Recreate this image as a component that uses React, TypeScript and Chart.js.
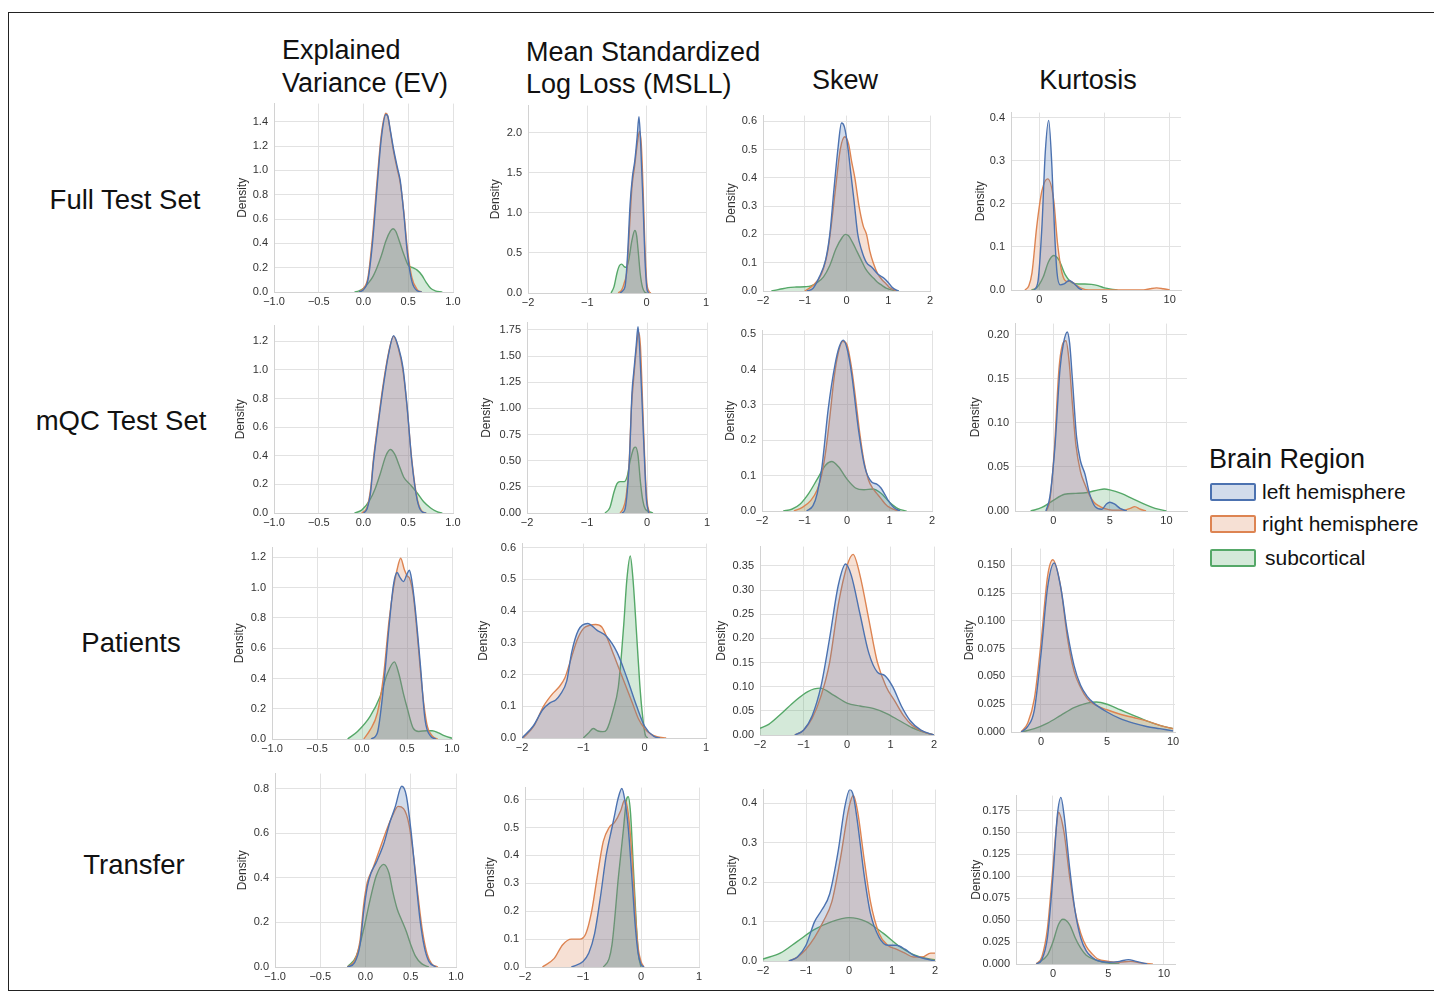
import React, { useEffect, useRef } from "react";
import { Chart, registerables } from "chart.js";
Chart.register(...registerables);

type Pt = [number, number];

// ---------- text ----------
const ROW_LABELS = ["Full Test Set", "mQC Test Set", "Patients", "Transfer"];
const COL_TITLES = [["Explained", "Variance (EV)"], ["Mean Standardized", "Log Loss (MSLL)"], ["Skew"], ["Kurtosis"]];
const SERIES = ["left hemisphere", "right hemisphere", "subcortical"];
const LEGEND_TITLE = "Brain Region";
const Y_TITLE = "Density";

// ---------- tick values ----------
const EV_X_TICKS = [-1, -0.5, 0, 0.5, 1];
const MSLL_X_TICKS = [-2, -1, 0, 1];
const SKEW_X_TICKS = [-2, -1, 0, 1, 2];
const KURT_X_TICKS = [0, 5, 10];

const FULL_EV_Y = [0, 0.2, 0.4, 0.6, 0.8, 1.0, 1.2, 1.4];
const FULL_MSLL_Y = [0, 0.5, 1.0, 1.5, 2.0];
const FULL_SKEW_Y = [0, 0.1, 0.2, 0.3, 0.4, 0.5, 0.6];
const FULL_KURT_Y = [0, 0.1, 0.2, 0.3, 0.4];
const MQC_EV_Y = [0, 0.2, 0.4, 0.6, 0.8, 1.0, 1.2];
const MQC_MSLL_Y = [0, 0.25, 0.5, 0.75, 1.0, 1.25, 1.5, 1.75];
const MQC_SKEW_Y = [0, 0.1, 0.2, 0.3, 0.4, 0.5];
const MQC_KURT_Y = [0, 0.05, 0.1, 0.15, 0.2];
const PAT_EV_Y = [0, 0.2, 0.4, 0.6, 0.8, 1.0, 1.2];
const PAT_MSLL_Y = [0, 0.1, 0.2, 0.3, 0.4, 0.5, 0.6];
const PAT_SKEW_Y = [0, 0.05, 0.1, 0.15, 0.2, 0.25, 0.3, 0.35];
const PAT_KURT_Y = [0, 0.025, 0.05, 0.075, 0.1, 0.125, 0.15];
const TR_EV_Y = [0, 0.2, 0.4, 0.6, 0.8];
const TR_MSLL_Y = [0, 0.1, 0.2, 0.3, 0.4, 0.5, 0.6];
const TR_SKEW_Y = [0, 0.1, 0.2, 0.3, 0.4];
const TR_KURT_Y = [0, 0.025, 0.05, 0.075, 0.1, 0.125, 0.15, 0.175];

// ---------- density curves [x, density] ----------
const FULL_EV_LEFT: Pt[] = [[-0.05,0],[0,0.02],[0.05,0.1],[0.1,0.4],[0.15,0.85],[0.2,1.27],[0.25,1.46],[0.27,1.45],[0.3,1.33],[0.34,1.16],[0.38,1.02],[0.41,0.92],[0.45,0.65],[0.49,0.32],[0.54,0.09],[0.6,0.01],[0.65,0]];
const FULL_EV_RIGHT: Pt[] = [[-0.05,0],[0,0.03],[0.05,0.12],[0.1,0.45],[0.15,0.9],[0.2,1.3],[0.25,1.47],[0.27,1.45],[0.3,1.32],[0.34,1.14],[0.38,1.0],[0.41,0.9],[0.45,0.66],[0.49,0.36],[0.54,0.12],[0.6,0.02],[0.65,0]];
const FULL_EV_SUB: Pt[] = [[-0.1,0],[-0.05,0.01],[0,0.03],[0.05,0.07],[0.1,0.12],[0.15,0.2],[0.2,0.3],[0.25,0.42],[0.3,0.5],[0.33,0.52],[0.36,0.5],[0.4,0.42],[0.45,0.31],[0.5,0.22],[0.55,0.2],[0.6,0.18],[0.65,0.14],[0.7,0.08],[0.75,0.03],[0.8,0.01],[0.88,0]];

const FULL_MSLL_LEFT: Pt[] = [[-0.45,0],[-0.4,0.03],[-0.36,0.1],[-0.32,0.5],[-0.28,1.1],[-0.24,1.45],[-0.2,1.65],[-0.16,1.95],[-0.13,2.2],[-0.1,1.85],[-0.06,1.1],[-0.03,0.45],[0,0.08],[0.03,0]];
const FULL_MSLL_RIGHT: Pt[] = [[-0.48,0],[-0.42,0.04],[-0.38,0.12],[-0.33,0.3],[-0.29,0.8],[-0.25,1.3],[-0.2,1.6],[-0.16,1.85],[-0.12,2.02],[-0.09,1.85],[-0.06,1.3],[-0.03,0.6],[0,0.15],[0.04,0.02],[0.07,0]];
const FULL_MSLL_SUB: Pt[] = [[-0.6,0],[-0.55,0.08],[-0.5,0.25],[-0.46,0.34],[-0.42,0.36],[-0.38,0.33],[-0.34,0.32],[-0.3,0.42],[-0.25,0.65],[-0.2,0.78],[-0.17,0.72],[-0.14,0.5],[-0.11,0.25],[-0.07,0.07],[-0.03,0.01],[0,0]];

const FULL_SKEW_LEFT: Pt[] = [[-0.95,0],[-0.8,0.01],[-0.65,0.05],[-0.5,0.11],[-0.4,0.2],[-0.3,0.36],[-0.2,0.51],[-0.12,0.594],[-0.05,0.58],[0.04,0.5],[0.1,0.42],[0.18,0.32],[0.27,0.2],[0.36,0.145],[0.48,0.1],[0.6,0.085],[0.75,0.06],[0.9,0.045],[1.0,0.03],[1.1,0.012],[1.25,0]];
const FULL_SKEW_RIGHT: Pt[] = [[-1.0,0],[-0.8,0.02],[-0.6,0.06],[-0.45,0.14],[-0.35,0.25],[-0.25,0.38],[-0.15,0.5],[-0.04,0.545],[0.05,0.52],[0.12,0.46],[0.2,0.4],[0.3,0.3],[0.4,0.23],[0.48,0.2],[0.56,0.14],[0.64,0.1],[0.75,0.06],[0.85,0.04],[0.95,0.025],[1.05,0.01],[1.2,0]];
const FULL_SKEW_SUB: Pt[] = [[-1.8,0],[-1.6,0.006],[-1.4,0.012],[-1.2,0.014],[-1.0,0.015],[-0.85,0.018],[-0.7,0.03],[-0.55,0.05],[-0.4,0.09],[-0.25,0.15],[-0.1,0.19],[-0.03,0.2],[0.05,0.195],[0.15,0.17],[0.25,0.14],[0.35,0.11],[0.45,0.08],[0.55,0.06],[0.65,0.045],[0.75,0.03],[0.85,0.02],[0.95,0.01],[1.1,0.003],[1.25,0]];

const FULL_KURT_LEFT: Pt[] = [[-0.4,0],[-0.1,0.02],[0.2,0.146],[0.46,0.32],[0.72,0.394],[0.97,0.285],[1.18,0.13],[1.36,0.04],[1.6,0.012],[1.9,0.014],[2.3,0.022],[2.7,0.014],[3.0,0.005],[3.3,0]];
const FULL_KURT_RIGHT: Pt[] = [[-1.1,0],[-0.8,0.01],[-0.56,0.04],[-0.2,0.146],[0.2,0.23],[0.64,0.258],[1.1,0.21],[1.4,0.108],[1.74,0.04],[2.1,0.02],[2.4,0.02],[2.8,0.012],[3.3,0.003],[3.8,0],[8.0,0],[8.5,0.003],[9.0,0.005],[9.5,0.003],[10.0,0]];
const FULL_KURT_SUB: Pt[] = [[-0.6,0],[-0.2,0.005],[0.3,0.03],[0.7,0.065],[1.1,0.08],[1.5,0.07],[2.0,0.035],[2.5,0.017],[3.0,0.014],[3.5,0.014],[4.0,0.013],[4.5,0.01],[5.0,0.005],[5.5,0.002],[6.0,0]];

const MQC_EV_LEFT: Pt[] = [[0.0,0],[0.04,0.03],[0.08,0.15],[0.11,0.35],[0.17,0.65],[0.22,0.88],[0.28,1.11],[0.336,1.24],[0.39,1.16],[0.44,1.02],[0.485,0.76],[0.54,0.36],[0.6,0.09],[0.65,0.01],[0.7,0]];
const MQC_EV_RIGHT: Pt[] = [[-0.02,0],[0.04,0.04],[0.08,0.17],[0.11,0.37],[0.17,0.67],[0.22,0.9],[0.28,1.12],[0.335,1.235],[0.39,1.15],[0.44,1.0],[0.485,0.75],[0.54,0.37],[0.6,0.1],[0.65,0.015],[0.7,0]];
const MQC_EV_SUB: Pt[] = [[-0.1,0],[-0.02,0.02],[0.07,0.09],[0.13,0.17],[0.19,0.28],[0.25,0.4],[0.3,0.444],[0.35,0.41],[0.4,0.33],[0.45,0.25],[0.52,0.2],[0.6,0.14],[0.67,0.08],[0.75,0.035],[0.82,0.01],[0.88,0]];

const MQC_MSLL_LEFT: Pt[] = [[-0.42,0],[-0.37,0.03],[-0.33,0.2],[-0.29,0.55],[-0.25,1.15],[-0.22,1.35],[-0.18,1.6],[-0.15,1.78],[-0.12,1.55],[-0.07,0.89],[-0.03,0.35],[-0.01,0.13],[0.03,0]];
const MQC_MSLL_RIGHT: Pt[] = [[-0.45,0],[-0.4,0.04],[-0.35,0.15],[-0.3,0.45],[-0.26,1.0],[-0.22,1.3],[-0.18,1.55],[-0.14,1.73],[-0.11,1.6],[-0.07,1.0],[-0.03,0.4],[0,0.12],[0.04,0]];
const MQC_MSLL_SUB: Pt[] = [[-0.7,0],[-0.62,0.05],[-0.55,0.2],[-0.5,0.28],[-0.45,0.3],[-0.38,0.3],[-0.33,0.35],[-0.28,0.5],[-0.22,0.62],[-0.19,0.63],[-0.15,0.55],[-0.11,0.3],[-0.07,0.12],[-0.03,0.04],[0.05,0.01],[0.1,0]];

const MQC_SKEW_LEFT: Pt[] = [[-0.95,0],[-0.8,0.015],[-0.7,0.05],[-0.59,0.124],[-0.44,0.29],[-0.28,0.415],[-0.18,0.465],[-0.09,0.483],[0.0,0.46],[0.11,0.387],[0.27,0.23],[0.42,0.124],[0.58,0.082],[0.7,0.076],[0.8,0.065],[0.9,0.045],[0.97,0.03],[1.1,0.01],[1.25,0]];
const MQC_SKEW_RIGHT: Pt[] = [[-1.25,0],[-1.05,0.01],[-0.85,0.03],[-0.7,0.06],[-0.6,0.1],[-0.5,0.17],[-0.4,0.27],[-0.3,0.38],[-0.2,0.45],[-0.1,0.48],[0.0,0.47],[0.1,0.41],[0.2,0.32],[0.3,0.22],[0.4,0.14],[0.5,0.09],[0.6,0.065],[0.7,0.05],[0.8,0.035],[0.9,0.02],[1.0,0.01],[1.2,0]];
const MQC_SKEW_SUB: Pt[] = [[-1.5,0],[-1.3,0.005],[-1.1,0.02],[-0.9,0.05],[-0.7,0.09],[-0.5,0.13],[-0.36,0.14],[-0.2,0.125],[0,0.09],[0.2,0.065],[0.4,0.06],[0.6,0.062],[0.8,0.05],[1.0,0.025],[1.2,0.007],[1.4,0]];

const MQC_KURT_LEFT: Pt[] = [[-0.65,0],[-0.3,0.016],[0.15,0.073],[0.59,0.16],[0.9,0.19],[1.24,0.203],[1.45,0.19],[1.7,0.148],[2.06,0.084],[2.4,0.057],[2.8,0.042],[3.2,0.02],[3.7,0.005],[4.3,0.002],[4.7,0.008],[5.0,0.01],[5.4,0.008],[5.9,0.003],[6.5,0]];
const MQC_KURT_RIGHT: Pt[] = [[-0.6,0],[-0.3,0.012],[0.1,0.07],[0.5,0.16],[0.8,0.188],[1.12,0.193],[1.4,0.17],[1.7,0.12],[2.0,0.075],[2.4,0.045],[2.8,0.03],[3.2,0.018],[3.6,0.01],[4.0,0.006],[4.5,0.003],[5.2,0.001],[6.2,0.001],[6.8,0.003],[7.2,0.005],[7.7,0.002],[8.2,0]];
const MQC_KURT_SUB: Pt[] = [[-2.0,0],[-1.0,0.004],[0,0.012],[1,0.019],[2,0.02],[3,0.021],[4,0.024],[4.5,0.025],[5,0.024],[6,0.02],[7,0.014],[8,0.008],[9,0.003],[10,0]];

const PAT_EV_LEFT: Pt[] = [[0.1,0],[0.17,0.04],[0.24,0.35],[0.3,0.74],[0.35,1.02],[0.39,1.1],[0.42,1.07],[0.46,1.04],[0.5,1.09],[0.526,1.115],[0.55,1.06],[0.59,0.87],[0.65,0.48],[0.7,0.13],[0.76,0.02],[0.82,0]];
const PAT_EV_RIGHT: Pt[] = [[0.02,0],[0.09,0.06],[0.17,0.17],[0.24,0.42],[0.3,0.78],[0.35,1.0],[0.39,1.12],[0.43,1.195],[0.47,1.12],[0.5,1.08],[0.53,1.06],[0.57,0.95],[0.62,0.65],[0.67,0.32],[0.72,0.1],[0.78,0.02],[0.84,0]];
const PAT_EV_SUB: Pt[] = [[-0.16,0],[-0.05,0.05],[0.09,0.15],[0.2,0.28],[0.28,0.43],[0.36,0.51],[0.41,0.43],[0.46,0.3],[0.5,0.21],[0.57,0.07],[0.63,0.05],[0.72,0.055],[0.78,0.055],[0.85,0.04],[0.92,0.02],[1.0,0.005]];

const PAT_MSLL_LEFT: Pt[] = [[-2.0,0],[-1.82,0.037],[-1.66,0.09],[-1.55,0.11],[-1.45,0.12],[-1.38,0.136],[-1.27,0.18],[-1.19,0.27],[-1.08,0.34],[-0.93,0.361],[-0.78,0.34],[-0.62,0.32],[-0.45,0.27],[-0.29,0.19],[-0.13,0.1],[0.0,0.037],[0.15,0.005],[0.25,0]];
const PAT_MSLL_RIGHT: Pt[] = [[-1.98,0],[-1.8,0.04],[-1.65,0.1],[-1.5,0.14],[-1.4,0.16],[-1.3,0.19],[-1.2,0.25],[-1.1,0.31],[-1.0,0.345],[-0.9,0.355],[-0.8,0.358],[-0.7,0.35],[-0.6,0.31],[-0.5,0.26],[-0.4,0.21],[-0.3,0.16],[-0.2,0.11],[-0.1,0.06],[0,0.03],[0.1,0.012],[0.2,0.004],[0.35,0]];
const PAT_MSLL_SUB: Pt[] = [[-1.0,0],[-0.92,0.015],[-0.84,0.03],[-0.76,0.022],[-0.68,0.02],[-0.62,0.026],[-0.51,0.09],[-0.43,0.16],[-0.38,0.26],[-0.34,0.36],[-0.29,0.5],[-0.235,0.574],[-0.19,0.5],[-0.126,0.31],[-0.08,0.17],[-0.04,0.08],[0.01,0.01],[0.05,0]];

const PAT_SKEW_LEFT: Pt[] = [[-1.2,0],[-1.0,0.01],[-0.8,0.04],[-0.6,0.1],[-0.4,0.2],[-0.2,0.31],[-0.03,0.354],[0.1,0.33],[0.3,0.25],[0.5,0.17],[0.7,0.13],[0.87,0.123],[1.05,0.1],[1.25,0.06],[1.45,0.03],[1.7,0.01],[2.0,0]];
const PAT_SKEW_RIGHT: Pt[] = [[-1.2,0],[-1.0,0.01],[-0.8,0.035],[-0.6,0.08],[-0.4,0.15],[-0.2,0.27],[0.0,0.35],[0.14,0.374],[0.3,0.33],[0.5,0.24],[0.7,0.15],[0.9,0.1],[1.1,0.07],[1.3,0.04],[1.5,0.02],[1.8,0.005],[2.0,0]];
const PAT_SKEW_SUB: Pt[] = [[-2.0,0.014],[-1.8,0.022],[-1.5,0.045],[-1.2,0.07],[-0.9,0.09],[-0.62,0.097],[-0.3,0.082],[0.0,0.066],[0.3,0.06],[0.6,0.055],[0.9,0.045],[1.2,0.03],[1.5,0.015],[1.8,0.005],[2.0,0]];

const PAT_KURT_LEFT: Pt[] = [[-1.5,0],[-1.0,0.005],[-0.5,0.02],[0,0.07],[0.5,0.13],[1.0,0.152],[1.5,0.13],[2.0,0.09],[2.5,0.06],[3.0,0.042],[3.5,0.032],[4,0.026],[5,0.018],[6,0.012],[7,0.008],[8,0.005],[9,0.003],[10,0.001]];
const PAT_KURT_RIGHT: Pt[] = [[-1.5,0],[-1,0.008],[-0.5,0.03],[0,0.08],[0.5,0.14],[0.9,0.155],[1.5,0.13],[2.0,0.085],[2.5,0.055],[3,0.04],[3.5,0.03],[4,0.025],[5,0.02],[6,0.016],[7,0.013],[8,0.01],[9,0.006],[10,0.003]];
const PAT_KURT_SUB: Pt[] = [[-1.5,0],[-0.5,0.003],[0.5,0.008],[1.5,0.015],[2.5,0.022],[3.5,0.026],[4.2,0.027],[5,0.025],[6,0.02],[7,0.015],[8,0.01],[9,0.006],[10,0.003]];

const TR_EV_LEFT: Pt[] = [[-0.2,0],[-0.12,0.02],[-0.06,0.1],[-0.02,0.25],[0.02,0.36],[0.06,0.42],[0.12,0.47],[0.2,0.55],[0.27,0.65],[0.33,0.72],[0.4,0.81],[0.45,0.77],[0.5,0.62],[0.55,0.42],[0.6,0.22],[0.65,0.09],[0.7,0.025],[0.78,0]];
const TR_EV_RIGHT: Pt[] = [[-0.2,0],[-0.12,0.03],[-0.06,0.12],[-0.02,0.28],[0.02,0.38],[0.08,0.44],[0.15,0.52],[0.22,0.6],[0.3,0.68],[0.36,0.72],[0.42,0.71],[0.48,0.64],[0.53,0.5],[0.58,0.32],[0.63,0.16],[0.68,0.06],[0.73,0.015],[0.8,0]];
const TR_EV_SUB: Pt[] = [[-0.2,0],[-0.1,0.05],[-0.02,0.17],[0.05,0.3],[0.12,0.41],[0.2,0.46],[0.26,0.42],[0.3,0.34],[0.35,0.26],[0.4,0.21],[0.45,0.16],[0.5,0.1],[0.55,0.05],[0.62,0.015],[0.7,0]];

const TR_MSLL_LEFT: Pt[] = [[-1.2,0],[-1.0,0.02],[-0.9,0.05],[-0.8,0.12],[-0.7,0.25],[-0.6,0.4],[-0.5,0.5],[-0.45,0.55],[-0.4,0.6],[-0.33,0.64],[-0.28,0.6],[-0.22,0.5],[-0.15,0.3],[-0.1,0.15],[-0.05,0.05],[0,0.01],[0.05,0]];
const TR_MSLL_RIGHT: Pt[] = [[-1.7,0],[-1.5,0.03],[-1.35,0.08],[-1.2,0.1],[-1.05,0.1],[-0.95,0.12],[-0.85,0.2],[-0.75,0.33],[-0.65,0.45],[-0.55,0.5],[-0.45,0.52],[-0.35,0.56],[-0.28,0.6],[-0.22,0.55],[-0.15,0.38],[-0.1,0.2],[-0.05,0.07],[0,0.02],[0.05,0]];
const TR_MSLL_SUB: Pt[] = [[-0.65,0],[-0.55,0.03],[-0.5,0.08],[-0.45,0.18],[-0.4,0.3],[-0.35,0.4],[-0.3,0.5],[-0.25,0.6],[-0.22,0.61],[-0.18,0.55],[-0.13,0.35],[-0.08,0.15],[-0.04,0.04],[0,0]];

const TR_SKEW_LEFT: Pt[] = [[-1.4,0],[-1.2,0.01],[-1.0,0.04],[-0.8,0.1],[-0.63,0.13],[-0.45,0.17],[-0.25,0.28],[-0.1,0.39],[0.02,0.435],[0.1,0.42],[0.2,0.35],[0.35,0.22],[0.5,0.12],[0.7,0.06],[0.9,0.04],[1.1,0.04],[1.3,0.03],[1.5,0.015],[1.8,0.005],[2,0]];
const TR_SKEW_RIGHT: Pt[] = [[-1.4,0],[-1.2,0.01],[-1.0,0.03],[-0.8,0.06],[-0.6,0.1],[-0.4,0.15],[-0.2,0.26],[0.0,0.39],[0.1,0.42],[0.2,0.38],[0.35,0.26],[0.5,0.15],[0.7,0.07],[0.9,0.04],[1.1,0.03],[1.3,0.02],[1.5,0.01],[1.7,0.01],[1.9,0.02],[2.0,0.02]];
const TR_SKEW_SUB: Pt[] = [[-2.0,0.005],[-1.6,0.02],[-1.2,0.05],[-0.8,0.08],[-0.4,0.1],[0.0,0.11],[0.4,0.1],[0.8,0.07],[1.2,0.035],[1.6,0.012],[2.0,0.003]];

const TR_KURT_LEFT: Pt[] = [[-1.5,0],[-1,0.005],[-0.5,0.03],[0,0.1],[0.4,0.17],[0.72,0.19],[1.0,0.17],[1.5,0.11],[2.0,0.06],[2.5,0.03],[3,0.015],[3.5,0.008],[4,0.004],[5,0.002],[6,0.003],[6.8,0.005],[7.5,0.003],[8.5,0]];
const TR_KURT_RIGHT: Pt[] = [[-1.5,0],[-1,0.008],[-0.5,0.04],[0,0.11],[0.3,0.155],[0.5,0.173],[1.0,0.15],[1.5,0.1],[2.0,0.06],[2.5,0.035],[3,0.02],[3.5,0.012],[4,0.006],[5,0.003],[6,0.002],[7,0.003],[8,0.001],[9,0]];
const TR_KURT_SUB: Pt[] = [[-1.5,0],[-0.5,0.01],[0,0.025],[0.5,0.045],[0.9,0.051],[1.5,0.045],[2.0,0.03],[2.5,0.018],[3,0.01],[4,0.004],[5,0.001],[6,0]];

// ---------- styling ----------
const LINE_COLORS = ["#4c72b0", "#dd8452", "#55a868"];
const FILL_COLORS = ["rgba(76,114,176,0.25)", "rgba(221,132,82,0.25)", "rgba(85,168,104,0.25)"];
const FONT = "'Liberation Sans', Arial, Helvetica, sans-serif";
const GRID = "#e2e2e2";
const SPINE = "#d2d2d2";
const TXT = "#333333";
const PAD_T = 12;
const PAD_R = 16;
const XH = 24;

type PanelCfg = {
  L: number; R: number; T: number; B: number; densX: number;
  xMin: number; xMax: number; yMax: number;
  xTicks: number[]; xDec: number; yTicks: number[]; yDec: number;
  series: Pt[][];
};

const PANELS: PanelCfg[] = [
  // Full Test Set
  { L: 274, R: 453, T: 103, B: 292, densX: 243, xMin: -1, xMax: 1, yMax: 1.55, xTicks: EV_X_TICKS, xDec: 1, yTicks: FULL_EV_Y, yDec: 1, series: [FULL_EV_LEFT, FULL_EV_RIGHT, FULL_EV_SUB] },
  { L: 528, R: 706, T: 105, B: 293, densX: 496, xMin: -2, xMax: 1, yMax: 2.34, xTicks: MSLL_X_TICKS, xDec: 0, yTicks: FULL_MSLL_Y, yDec: 1, series: [FULL_MSLL_LEFT, FULL_MSLL_RIGHT, FULL_MSLL_SUB] },
  { L: 763, R: 930, T: 115, B: 291, densX: 732, xMin: -2, xMax: 2, yMax: 0.62, xTicks: SKEW_X_TICKS, xDec: 0, yTicks: FULL_SKEW_Y, yDec: 1, series: [FULL_SKEW_LEFT, FULL_SKEW_RIGHT, FULL_SKEW_SUB] },
  { L: 1011, R: 1181, T: 112, B: 290, densX: 981, xMin: -2.17, xMax: 10.87, yMax: 0.412, xTicks: KURT_X_TICKS, xDec: 0, yTicks: FULL_KURT_Y, yDec: 1, series: [FULL_KURT_LEFT, FULL_KURT_RIGHT, FULL_KURT_SUB] },
  // mQC Test Set
  { L: 274, R: 453, T: 325, B: 513, densX: 241, xMin: -1, xMax: 1, yMax: 1.31, xTicks: EV_X_TICKS, xDec: 1, yTicks: MQC_EV_Y, yDec: 1, series: [MQC_EV_LEFT, MQC_EV_RIGHT, MQC_EV_SUB] },
  { L: 527, R: 707, T: 322, B: 513, densX: 487, xMin: -2, xMax: 1, yMax: 1.82, xTicks: MSLL_X_TICKS, xDec: 0, yTicks: MQC_MSLL_Y, yDec: 2, series: [MQC_MSLL_LEFT, MQC_MSLL_RIGHT, MQC_MSLL_SUB] },
  { L: 762, R: 932, T: 330, B: 511, densX: 731, xMin: -2, xMax: 2, yMax: 0.51, xTicks: SKEW_X_TICKS, xDec: 0, yTicks: MQC_SKEW_Y, yDec: 1, series: [MQC_SKEW_LEFT, MQC_SKEW_RIGHT, MQC_SKEW_SUB] },
  { L: 1015, R: 1187, T: 323, B: 511, densX: 976, xMin: -3.38, xMax: 11.82, yMax: 0.2125, xTicks: KURT_X_TICKS, xDec: 0, yTicks: MQC_KURT_Y, yDec: 2, series: [MQC_KURT_LEFT, MQC_KURT_RIGHT, MQC_KURT_SUB] },
  // Patients
  { L: 272, R: 452, T: 547, B: 739, densX: 240, xMin: -1, xMax: 1, yMax: 1.265, xTicks: EV_X_TICKS, xDec: 1, yTicks: PAT_EV_Y, yDec: 1, series: [PAT_EV_LEFT, PAT_EV_RIGHT, PAT_EV_SUB] },
  { L: 522, R: 706, T: 543, B: 738, densX: 484, xMin: -2, xMax: 1, yMax: 0.613, xTicks: MSLL_X_TICKS, xDec: 0, yTicks: PAT_MSLL_Y, yDec: 1, series: [PAT_MSLL_LEFT, PAT_MSLL_RIGHT, PAT_MSLL_SUB] },
  { L: 760, R: 934, T: 546, B: 735, densX: 722, xMin: -2, xMax: 2, yMax: 0.39, xTicks: SKEW_X_TICKS, xDec: 0, yTicks: PAT_SKEW_Y, yDec: 2, series: [PAT_SKEW_LEFT, PAT_SKEW_RIGHT, PAT_SKEW_SUB] },
  { L: 1011, R: 1175, T: 548, B: 732, densX: 970, xMin: -2.27, xMax: 10.15, yMax: 0.165, xTicks: KURT_X_TICKS, xDec: 0, yTicks: PAT_KURT_Y, yDec: 3, series: [PAT_KURT_LEFT, PAT_KURT_RIGHT, PAT_KURT_SUB] },
  // Transfer
  { L: 275, R: 456, T: 773, B: 967, densX: 243, xMin: -1, xMax: 1, yMax: 0.867, xTicks: EV_X_TICKS, xDec: 1, yTicks: TR_EV_Y, yDec: 1, series: [TR_EV_LEFT, TR_EV_RIGHT, TR_EV_SUB] },
  { L: 525, R: 699, T: 787, B: 967, densX: 491, xMin: -2, xMax: 1, yMax: 0.643, xTicks: MSLL_X_TICKS, xDec: 0, yTicks: TR_MSLL_Y, yDec: 1, series: [TR_MSLL_LEFT, TR_MSLL_RIGHT, TR_MSLL_SUB] },
  { L: 763, R: 935, T: 789, B: 961, densX: 733, xMin: -2, xMax: 2, yMax: 0.435, xTicks: SKEW_X_TICKS, xDec: 0, yTicks: TR_SKEW_Y, yDec: 1, series: [TR_SKEW_LEFT, TR_SKEW_RIGHT, TR_SKEW_SUB] },
  { L: 1016, R: 1175, T: 795, B: 964, densX: 977, xMin: -3.33, xMax: 11.0, yMax: 0.192, xTicks: KURT_X_TICKS, xDec: 0, yTicks: TR_KURT_Y, yDec: 3, series: [TR_KURT_LEFT, TR_KURT_RIGHT, TR_KURT_SUB] },
];

function fmt(v: number, dec: number): string {
  const s = Math.abs(v).toFixed(dec);
  return (v < 0 ? "\u2212" : "") + s;
}

function Panel({ cfg }: { cfg: PanelCfg }) {
  const ref = useRef<HTMLCanvasElement>(null);
  const yw = cfg.L - cfg.densX + 10;
  const w = yw + (cfg.R - cfg.L) + PAD_R;
  const h = PAD_T + (cfg.B - cfg.T) + XH;
  useEffect(() => {
    const tickFont = { family: FONT, size: 11 };
    const chart = new Chart(ref.current as HTMLCanvasElement, {
      type: "line",
      data: {
        datasets: cfg.series.map((s, i) => ({
          label: SERIES[i],
          data: s.map(([x, y]) => ({ x, y })),
          borderColor: LINE_COLORS[i],
          backgroundColor: FILL_COLORS[i],
          fill: "origin",
          borderWidth: 1.4,
          pointRadius: 0,
          cubicInterpolationMode: "monotone",
        })),
      },
      options: {
        animation: false,
        responsive: false,
        maintainAspectRatio: false,
        events: [],
        layout: { padding: { left: 0, top: PAD_T, right: PAD_R, bottom: 0 } },
        plugins: { legend: { display: false }, tooltip: { enabled: false } },
        scales: {
          x: {
            type: "linear",
            min: cfg.xMin,
            max: cfg.xMax,
            afterFit: (s: any) => { s.height = XH; },
            afterBuildTicks: (s: any) => { s.ticks = cfg.xTicks.map((v) => ({ value: v })); },
            ticks: { font: tickFont, color: TXT, padding: 3, maxRotation: 0, autoSkip: false, callback: (v: any) => fmt(Number(v), cfg.xDec) },
            grid: { color: GRID, drawTicks: false, lineWidth: 1 },
            border: { display: true, color: SPINE, width: 1 },
          },
          y: {
            type: "linear",
            min: 0,
            max: cfg.yMax,
            afterFit: (s: any) => { s.width = yw; },
            afterBuildTicks: (s: any) => { s.ticks = cfg.yTicks.map((v) => ({ value: v })); },
            ticks: { font: tickFont, color: TXT, padding: 6, autoSkip: false, callback: (v: any) => fmt(Number(v), cfg.yDec) },
            grid: { color: GRID, drawTicks: false, lineWidth: 1 },
            border: { display: true, color: SPINE, width: 1 },
            title: { display: true, text: Y_TITLE, font: { family: FONT, size: 12 }, color: TXT, padding: { top: 2.8, bottom: 0 } },
          },
        },
      } as any,
    });
    return () => chart.destroy();
  }, [cfg]);
  return (
    <canvas
      ref={ref}
      width={w}
      height={h}
      style={{ position: "absolute", left: cfg.densX - 10, top: cfg.T - PAD_T, width: w, height: h }}
    />
  );
}

const txt = (extra: React.CSSProperties): React.CSSProperties => ({
  position: "absolute",
  fontFamily: FONT,
  color: "#111",
  whiteSpace: "nowrap",
  ...extra,
});

export default function App() {
  const rowCenters = [{ x: 125, y: 200 }, { x: 121, y: 421 }, { x: 131, y: 643 }, { x: 134, y: 865 }];
  const legendY = [492, 524, 558];
  return (
    <div style={{ position: "absolute", left: 0, top: 0, width: 1434, height: 994, background: "#fff", overflow: "hidden" }}>
      <div style={{ position: "absolute", left: 8, top: 12, width: 1426, height: 979, borderTop: "1px solid #222", borderLeft: "1px solid #222", borderBottom: "1px solid #222", boxSizing: "border-box" }} />
      {/* column titles */}
      <div style={txt({ left: 282, top: 34, fontSize: 27, lineHeight: "33px" })}>
        {COL_TITLES[0][0]}<br />{COL_TITLES[0][1]}
      </div>
      <div style={txt({ left: 526, top: 36, fontSize: 27, lineHeight: "32px" })}>
        {COL_TITLES[1][0]}<br />{COL_TITLES[1][1]}
      </div>
      <div style={txt({ left: 745, width: 200, textAlign: "center", top: 64, fontSize: 27, lineHeight: "33px" })}>{COL_TITLES[2][0]}</div>
      <div style={txt({ left: 988, width: 200, textAlign: "center", top: 64, fontSize: 27, lineHeight: "33px" })}>{COL_TITLES[3][0]}</div>
      {/* row labels */}
      {ROW_LABELS.map((r, i) => (
        <div key={r} style={txt({ left: rowCenters[i].x - 110, width: 220, textAlign: "center", top: rowCenters[i].y - 16, fontSize: 27.5, lineHeight: "32px" })}>{r}</div>
      ))}
      {PANELS.map((p, i) => <Panel key={i} cfg={p} />)}
      {/* legend */}
      <div style={txt({ left: 1209, top: 443, fontSize: 27, lineHeight: "32px" })}>{LEGEND_TITLE}</div>
      {SERIES.map((s, i) => (
        <React.Fragment key={s}>
          <div style={{ position: "absolute", left: 1210, top: legendY[i] - 9, width: 46, height: 18, boxSizing: "border-box", border: `2px solid ${LINE_COLORS[i]}`, background: FILL_COLORS[i], borderRadius: 2 }} />
          <div style={txt({ left: i === 2 ? 1265 : 1262, top: legendY[i] - 13, fontSize: 21, lineHeight: "26px" })}>{s}</div>
        </React.Fragment>
      ))}
    </div>
  );
}
